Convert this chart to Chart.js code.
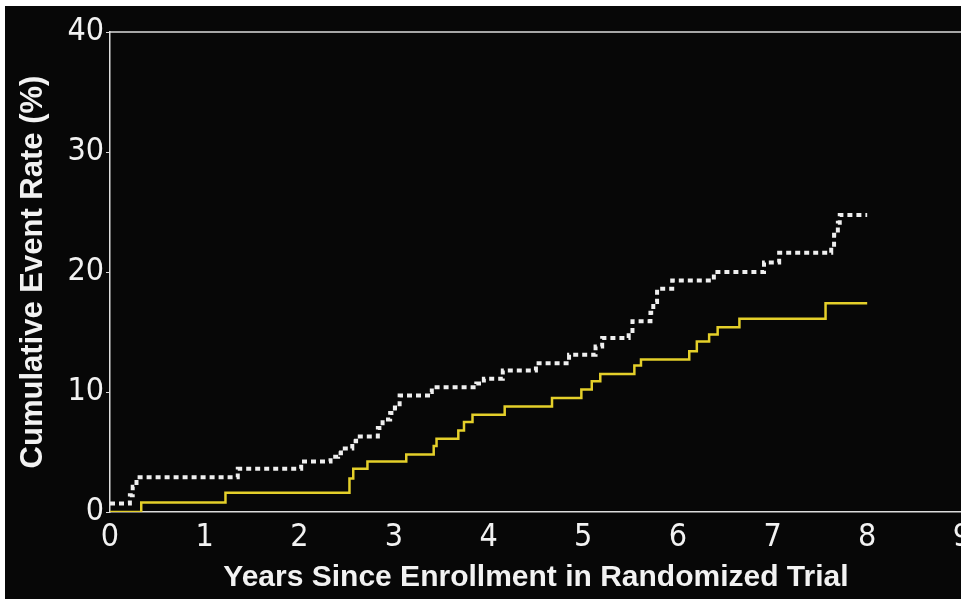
<!DOCTYPE html>
<html lang="en">
<head>
  <meta charset="UTF-8">
  <title>Cumulative Event Rate</title>
  <script src="https://cdn.jsdelivr.net/npm/chart.js"></script>
  <style>
    html, body { margin: 0; padding: 0; background: #fff; overflow: hidden; }
    #frame { position: absolute; left: 5px; top: 6px; width: 956px; height: 593px; background: #070707; overflow: hidden; }
  </style>
</head>
<body>
  <div id="frame">
    <canvas id="kmChart" width="972" height="593"></canvas>
  </div>
  <script>
    // x axis: years, y axis: cumulative event rate (%)
    const xTicks = [0, 1, 2, 3, 4, 5, 6, 7, 8, 9];
    const yTicks = [0, 10, 20, 30, 40];

    // dotted white curve (step points: time, new rate)
    const dottedYears = [0, 0.21, 0.24, 0.28, 1.35, 2.02, 2.33, 2.41, 2.44, 2.56, 2.6, 2.83, 2.88, 2.96, 3.01, 3.06,
      3.36, 3.4, 3.87, 3.95, 4.15, 4.5, 4.85, 5.13, 5.2, 5.48, 5.52, 5.71, 5.74, 5.78, 5.94, 6.38, 6.91, 7.07,
      7.62, 7.65, 7.69, 7.71, 8.0];
    const dottedRates = [0.7, 1.4, 2.1, 2.9, 3.6, 4.2, 4.6, 4.9, 5.3, 5.9, 6.3, 7.0, 7.7, 8.25, 8.7, 9.7,
      10.0, 10.4, 10.7, 11.1, 11.8, 12.4, 13.1, 13.8, 14.5, 14.9, 15.9, 16.6, 17.5, 18.6, 19.3, 20.0, 20.8, 21.6,
      22.1, 23.1, 24.1, 24.75, 24.75];

    // solid yellow curve
    const solidYears = [0, 0.33, 1.22, 2.53, 2.57, 2.72, 3.13, 3.42, 3.45, 3.68, 3.74, 3.83, 4.17, 4.67, 4.98,
      5.09, 5.18, 5.54, 5.61, 6.12, 6.2, 6.33, 6.42, 6.65, 7.56, 8.0];
    const solidRates = [0, 0.8, 1.6, 2.8, 3.6, 4.2, 4.8, 5.5, 6.1, 6.8, 7.5, 8.1, 8.8, 9.5, 10.2,
      10.9, 11.5, 12.2, 12.7, 13.4, 14.2, 14.8, 15.4, 16.1, 17.4, 17.4];

    const toPoints = (xs, ys) => xs.map((x, i) => ({ x: x, y: ys[i] }));

    const tickFont = { family: "'DejaVu Sans Condensed', 'DejaVu Sans', sans-serif", size: 32 };
    const axisColor = '#dcdcdc';

    // top edge of the plot box
    const topLine = {
      id: 'topLine',
      afterDraw(chart) {
        const a = chart.chartArea, ctx = chart.ctx;
        ctx.save();
        ctx.strokeStyle = axisColor;
        ctx.lineWidth = 1.5;
        ctx.beginPath();
        ctx.moveTo(a.left, a.top);
        ctx.lineTo(a.right, a.top);
        ctx.stroke();
        ctx.restore();
      }
    };

    const ctx = document.getElementById('kmChart').getContext('2d');
    new Chart(ctx, {
      type: 'line',
      data: {
        datasets: [
          {
            label: 'Dotted',
            data: toPoints(dottedYears, dottedRates),
            borderColor: '#efefef',
            borderWidth: 4,
            borderDash: [5, 4],
            borderCapStyle: 'butt',
            stepped: true,
            pointRadius: 0,
            fill: false
          },
          {
            label: 'Solid',
            data: toPoints(solidYears, solidRates),
            borderColor: '#e4cf2a',
            borderWidth: 2.5,
            stepped: true,
            pointRadius: 0,
            fill: false
          }
        ]
      },
      plugins: [topLine],
      options: {
        responsive: false,
        animation: false,
        layout: { padding: { top: 26, right: 12, bottom: 0, left: 0 } },
        plugins: {
          legend: { display: false },
          tooltip: { enabled: false }
        },
        scales: {
          x: {
            type: 'linear',
            min: 0,
            max: 9,
            afterBuildTicks: axis => { axis.ticks = xTicks.map(v => ({ value: v })); },
            afterFit: axis => { axis.height = 87; },
            grid: { display: false, drawTicks: false },
            border: { display: true, color: axisColor, width: 1.5 },
            ticks: { color: '#f2f2f2', font: tickFont, padding: 6, maxRotation: 0 },
            title: {
              display: true,
              text: 'Years Since Enrollment in Randomized Trial',
              color: '#f2f2f2',
              font: { family: "'Liberation Sans', Arial, sans-serif", size: 30, weight: 'bold', lineHeight: 1 },
              padding: { top: 0, bottom: 6 }
            }
          },
          y: {
            min: 0,
            max: 40,
            afterBuildTicks: axis => { axis.ticks = yTicks.map(v => ({ value: v })); },
            afterFit: axis => { axis.width = 105; },
            grid: { drawOnChartArea: false, tickLength: 4, color: axisColor },
            border: { display: true, color: axisColor, width: 1.5 },
            ticks: { color: '#f2f2f2', font: tickFont, padding: 2 },
            title: {
              display: true,
              text: 'Cumulative Event Rate (%)',
              color: '#f2f2f2',
              font: { family: "'Liberation Sans', Arial, sans-serif", size: 31, weight: 'bold', lineHeight: 1 },
              padding: { top: 13, bottom: 0 }
            }
          }
        }
      }
    });
  </script>
</body>
</html>
